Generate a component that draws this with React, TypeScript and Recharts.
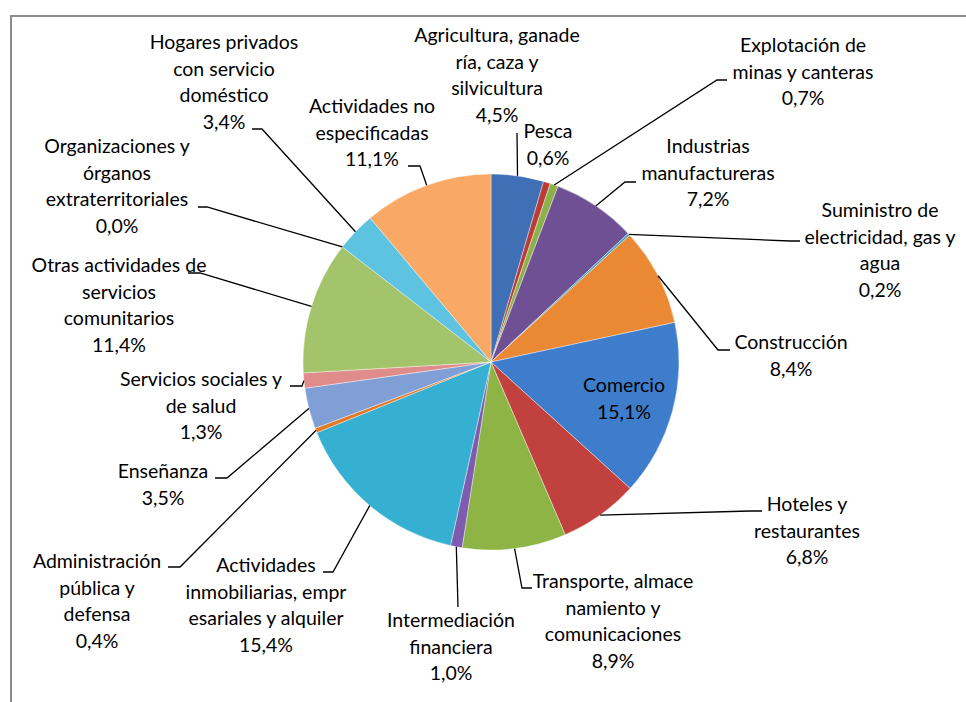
import { PieChart, Pie, Cell } from 'recharts'

// share of employment by branch of activity (%)
const categories = [
    'Agricultura, ganadería, caza y silvicultura',
    'Pesca',
    'Explotación de minas y canteras',
    'Industrias manufactureras',
    'Suministro de electricidad, gas y agua',
    'Construcción',
    'Comercio',
    'Hoteles y restaurantes',
    'Transporte, almacenamiento y comunicaciones',
    'Intermediación financiera',
    'Actividades inmobiliarias, empresariales y alquiler',
    'Administración pública y defensa',
    'Enseñanza',
    'Servicios sociales y de salud',
    'Otras actividades de servicios comunitarios',
    'Organizaciones y órganos extraterritoriales',
    'Hogares privados con servicio doméstico',
    'Actividades no especificadas',
]

const shares = [4.5, 0.6, 0.7, 7.2, 0.2, 8.4, 15.1, 6.8, 8.9, 1.0, 15.4, 0.4, 3.5, 1.3, 11.4, 0.0, 3.4, 11.1]

// wrapped the way Excel wrapped them
const labelLines = [
    ['Agricultura, ganade', 'ría, caza y', 'silvicultura'],
    ['Pesca'],
    ['Explotación de', 'minas y canteras'],
    ['Industrias', 'manufactureras'],
    ['Suministro de', 'electricidad, gas y', 'agua'],
    ['Construcción'],
    ['Comercio'],
    ['Hoteles y', 'restaurantes'],
    ['Transporte, almace', 'namiento y', 'comunicaciones'],
    ['Intermediación', 'financiera'],
    ['Actividades', 'inmobiliarias, empr', 'esariales y alquiler'],
    ['Administración', 'pública y', 'defensa'],
    ['Enseñanza'],
    ['Servicios sociales y', 'de salud'],
    ['Otras actividades de', 'servicios', 'comunitarios'],
    ['Organizaciones y', 'órganos', 'extraterritoriales'],
    ['Hogares privados', 'con servicio', 'doméstico'],
    ['Actividades no', 'especificadas'],
]

const colors = [
    '#3f70b5', '#b93c39', '#8db14a', '#6f5094', '#3fa6c2', '#ea8834',
    '#3d7dcc', '#c0413d', '#8fb446', '#7d5bae', '#36b0d2', '#e07b2a',
    '#7f9fd6', '#e08c8a', '#a3c46b', '#a28bc4', '#5ec3e0', '#f9a866',
]

// label placement (text centre / first baseline, leader attach point and elbow)
const labelPos: { x: number; y: number; ax?: number; ay?: number; bx?: number }[] = [
    { x: 497, y: 42, ax: 517, ay: 133 },
    { x: 548, y: 138 },
    { x: 803, y: 52, ax: 727, ay: 80, bx: 717 },
    { x: 708, y: 153, ax: 636, ay: 182, bx: 625 },
    { x: 880, y: 217, ax: 800, ay: 241, bx: 790 },
    { x: 791, y: 349, ax: 730, ay: 350, bx: 718 },
    { x: 624, y: 392 },
    { x: 807, y: 511, ax: 762, ay: 511, bx: 750 },
    { x: 613, y: 588, ax: 532, ay: 588, bx: 522 },
    { x: 451, y: 627, ax: 458, ay: 607 },
    { x: 266, y: 572, ax: 323, ay: 572, bx: 333 },
    { x: 97, y: 568, ax: 168, ay: 567, bx: 180 },
    { x: 163, y: 478, ax: 215, ay: 478, bx: 227 },
    { x: 201, y: 386, ax: 290, ay: 386, bx: 302 },
    { x: 119, y: 272, ax: 188, ay: 273, bx: 200 },
    { x: 117, y: 153, ax: 198, ay: 207, bx: 207 },
    { x: 224, y: 49, ax: 252, ay: 129, bx: 262 },
    { x: 372, y: 113, ax: 408, ay: 166, bx: 420 },
]

const data = categories.map((name, i) => ({ name, value: shares[i] }))

const RADIAN = Math.PI / 180
const LINE = 26.5
const fmt = (v: number) => `${v.toFixed(1).replace('.', ',')}%`

const renderLabel = (props: any) => {
    const { cx, cy, midAngle, outerRadius, value } = props
    const index = typeof props.index === 'number' ? props.index : categories.indexOf(props.name)
    const pos = labelPos[index]
    const ex = cx + outerRadius * Math.cos(-midAngle * RADIAN)
    const ey = cy + outerRadius * Math.sin(-midAngle * RADIAN)
    const lines = [...labelLines[index], fmt(value)]
    let points = ''
    if (pos.ax !== undefined) {
        points = pos.bx !== undefined
            ? `${ex},${ey} ${pos.bx},${pos.ay} ${pos.ax},${pos.ay}`
            : `${ex},${ey} ${pos.ax},${pos.ay}`
    }
    return (
        <g key={`label-${index}`}>
            {points && <polyline points={points} fill="none" stroke="#000" strokeWidth={1.3} />}
            <text x={pos.x} y={pos.y} textAnchor="middle" fill="#000" fontSize={19.5} fontFamily="Lato, sans-serif">
                {lines.map((l, j) => (
                    <tspan key={j} x={pos.x} y={pos.y + j * LINE}>{l}</tspan>
                ))}
            </text>
        </g>
    )
}

export default function App() {
    return (
        <div style={{ position: 'absolute', left: 0, top: 0, width: 966, height: 702, overflow: 'hidden', background: '#fff' }}>
            {/* chart area frame, runs off the right and bottom edges */}
            <div style={{ position: 'absolute', left: 10, top: 15, width: 1000, height: 800, borderTop: '2px solid #8c8c8c', borderLeft: '2px solid #8c8c8c' }} />
            <div style={{ position: 'absolute', left: 0, top: 0 }}>
                <PieChart width={966} height={702} margin={{ top: 0, right: 0, bottom: 0, left: 0 }}>
                    <Pie
                        data={data}
                        dataKey="value"
                        nameKey="name"
                        cx={491}
                        cy={362}
                        outerRadius={188}
                        startAngle={90}
                        endAngle={-270}
                        label={renderLabel}
                        labelLine={false}
                        isAnimationActive={false}
                        stroke="#ffffff"
                        strokeWidth={0.4}
                    >
                        {data.map((entry, index) => (
                            <Cell key={`cell-${index}`} fill={colors[index]} />
                        ))}
                    </Pie>
                </PieChart>
            </div>
        </div>
    )
}
